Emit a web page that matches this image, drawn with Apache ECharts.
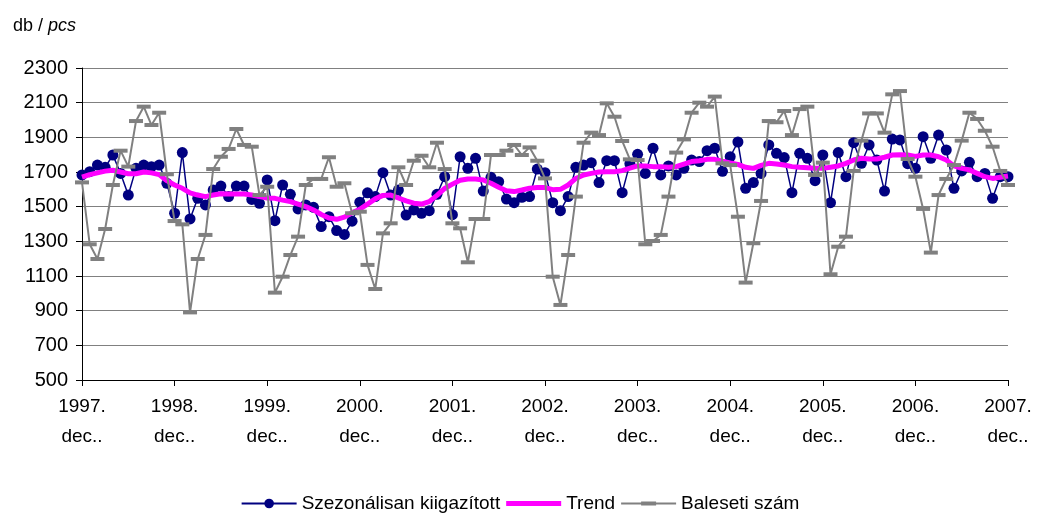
<!DOCTYPE html>
<html>
<head>
<meta charset="utf-8">
<script src="https://cdn.jsdelivr.net/npm/echarts@6/dist/echarts.min.js"></script>
<style>
html, body { margin: 0; padding: 0; background: #fff; }
#chart { width: 1040px; height: 515px; }
</style>
</head>
<body>
<div id="chart"></div>
<script>
// Monthly data, 1997 dec .. 2007 dec
var years = [1997, 1998, 1999, 2000, 2001, 2002, 2003, 2004, 2005, 2006, 2007];
var monthNames = ['dec.', 'jan.', 'febr.', 'márc.', 'ápr.', 'máj.', 'jún.', 'júl.', 'aug.', 'szept.', 'okt.', 'nov.'];

var adjusted = [
    1683, 1702, 1740, 1727, 1798, 1692, 1567, 1721, 1740, 1731, 1740, 1635,
    1462, 1812, 1429, 1548, 1510, 1596, 1619, 1558, 1619, 1619, 1542, 1519,
    1654, 1419, 1625, 1571, 1487, 1510, 1496, 1385, 1442, 1362, 1340, 1416,
    1526, 1580, 1558, 1696, 1567, 1596, 1452, 1481, 1462, 1477, 1571, 1673,
    1454, 1788, 1721, 1779, 1590, 1669, 1644, 1544, 1523, 1554, 1558, 1717,
    1696, 1523, 1477, 1558, 1727, 1740, 1754, 1639, 1765, 1765, 1581, 1748,
    1802, 1692, 1837, 1683, 1735, 1683, 1721, 1769, 1760, 1823, 1837, 1704,
    1788, 1873, 1606, 1639, 1692, 1856, 1808, 1783, 1581, 1808, 1779, 1650,
    1798, 1523, 1812, 1673, 1869, 1750, 1856, 1769, 1590, 1890, 1885, 1748,
    1721, 1904, 1779, 1913, 1827, 1606, 1706, 1756, 1673, 1692, 1548, 1673,
    1673
];

var trend = [
    1670, 1685, 1695, 1705, 1710, 1700, 1690, 1690, 1700, 1695, 1685, 1650,
    1625, 1606, 1580, 1567, 1558, 1567, 1575, 1573, 1573, 1573, 1567, 1558,
    1550, 1548, 1538, 1529, 1515, 1500, 1481, 1455, 1435, 1427, 1440, 1465,
    1485, 1515, 1545, 1565, 1567, 1550, 1533, 1520, 1515, 1529, 1565, 1605,
    1630, 1652, 1660, 1660, 1654, 1635, 1612, 1592, 1587, 1596, 1606, 1610,
    1610, 1598, 1600, 1625, 1663, 1683, 1692, 1700, 1702, 1702, 1708, 1722,
    1735, 1735, 1731, 1731, 1727, 1731, 1746, 1760, 1765, 1773, 1773, 1762,
    1752, 1744, 1727, 1721, 1738, 1750, 1746, 1740, 1731, 1727, 1725, 1721,
    1721, 1727, 1735, 1750, 1769, 1779, 1775, 1775, 1785, 1798, 1800, 1798,
    1790, 1798, 1798, 1788, 1769, 1735, 1721, 1712, 1692, 1673, 1663, 1670,
    1677
];

var accidents = [
    1640, 1283, 1198, 1371, 1625, 1823, 1731, 1994, 2077, 1971, 2042, 1687,
    1417, 1398, 890, 1198, 1337, 1717, 1788, 1833, 1948, 1856, 1846, 1567,
    1615, 1004, 1096, 1221, 1327, 1625, 1660, 1660, 1785, 1615, 1635, 1462,
    1471, 1164, 1025, 1346, 1404, 1727, 1625, 1765, 1794, 1727, 1869, 1717,
    1404, 1375, 1179, 1429, 1429, 1798, 1798, 1823, 1856, 1798, 1842, 1765,
    1663, 1096, 933, 1221, 1558, 1869, 1927, 1913, 2096, 2019, 1879, 1773,
    1769, 1283, 1302, 1337, 1558, 1812, 1888, 2042, 2100, 2077, 2135, 1750,
    1740, 1442, 1062, 1289, 1533, 1994, 1987, 2052, 1913, 2063, 2077, 1683,
    1754, 1110, 1269, 1327, 1706, 1881, 2038, 2038, 1927, 2148, 2167, 1775,
    1673, 1487, 1235, 1567, 1660, 1740, 1881, 2042, 2006, 1938, 1846, 1706,
    1625
];

// Category labels
var categories = [];
for (var i = 0; i < adjusted.length; i++) {
    var y = years[0] + Math.floor((i + 11) / 12);
    categories.push(y + '.\n' + monthNames[i % 12]);
}

var chart = echarts.init(document.getElementById('chart'));

var fontFamily = '"Liberation Sans", Arial, sans-serif';

chart.setOption({
    animation: false,
    backgroundColor: '#fff',

    textStyle: {
        fontFamily: fontFamily,
        color: '#000'
    },

    // Unit label
    title: {
        left: 8,
        top: 12,
        text: '{a|db / }{b|pcs}',
        textStyle: {
            fontWeight: 'normal',
            rich: {
                a: { fontSize: 18, fontFamily: fontFamily, fontWeight: 'normal', color: '#000' },
                b: { fontSize: 18, fontFamily: fontFamily, fontWeight: 'normal', fontStyle: 'italic', color: '#000' }
            }
        }
    },

    legend: {
        bottom: -3,
        left: 'center',
        itemWidth: 55,
        itemHeight: 12,
        itemGap: 6,
        textStyle: { fontSize: 19, color: '#000', fontFamily: fontFamily },
        data: [
            { name: 'Szezonálisan kiigazított' },
            { name: 'Trend', icon: 'path://M0,0 H55 V5 H0 Z' },
            { name: 'Baleseti szám', icon: 'path://M0,1 H55 V3 H0 Z M20,0 H35 V4 H20 Z' }
        ]
    },

    grid: {
        left: 82,
        right: 32,
        top: 68,
        bottom: 135
    },

    xAxis: {
        type: 'category',
        data: categories,
        boundaryGap: false,
        axisLine: { lineStyle: { color: '#000', width: 1 } },
        axisTick: {
            interval: 11,
            length: 6,
            lineStyle: { color: '#000' }
        },
        axisLabel: {
            interval: 11,
            fontSize: 19,
            lineHeight: 30,
            margin: 12,
            color: '#000',
            formatter: function (v) {
                return v.replace('dec.', 'dec..');
            }
        }
    },

    yAxis: {
        type: 'value',
        min: 500,
        max: 2300,
        interval: 200,
        axisLine: { show: true, lineStyle: { color: '#000', width: 1 } },
        axisTick: { show: true, length: 6, lineStyle: { color: '#000' } },
        axisLabel: {
            fontSize: 20,
            color: '#000',
            margin: 14,
            formatter: function (v) { return String(v); }
        },
        splitLine: { lineStyle: { color: '#808080', width: 1 } }
    },

    series: [
        {
            name: 'Szezonálisan kiigazított',
            type: 'line',
            data: adjusted,
            symbol: 'circle',
            symbolSize: 11,
            showAllSymbol: true,
            color: '#000080',
            itemStyle: { color: '#000080' },
            lineStyle: { color: '#000080', width: 1.5 },
            z: 2
        },
        {
            name: 'Trend',
            type: 'line',
            data: trend,
            symbol: 'none',
            color: '#ff00ff',
            lineStyle: { color: '#ff00ff', width: 5 },
            z: 3
        },
        {
            name: 'Baleseti szám',
            type: 'line',
            data: accidents,
            symbol: 'rect',
            symbolSize: [14, 4],
            showAllSymbol: true,
            color: '#808080',
            itemStyle: { color: '#808080' },
            lineStyle: { color: '#808080', width: 2 },
            z: 4
        }
    ]
});
</script>
</body>
</html>
